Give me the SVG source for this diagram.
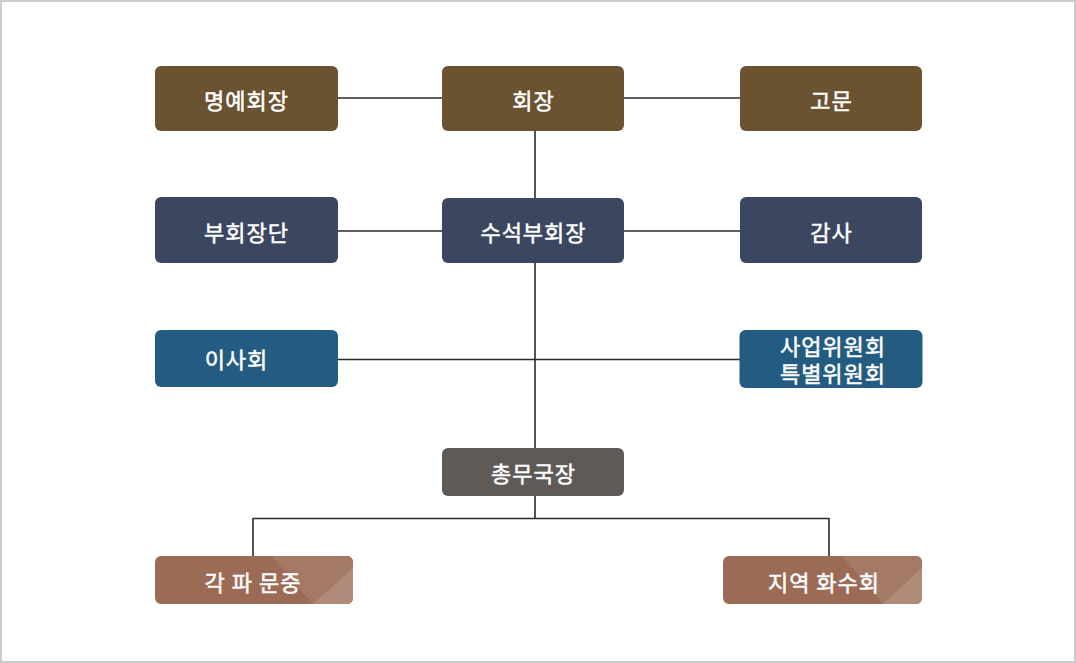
<svg xmlns="http://www.w3.org/2000/svg" width="1076" height="663" viewBox="0 0 1076 663">
<style>
.t{font-family:"Noto Sans CJK KR","Noto Sans",sans-serif;font-size:22px;font-weight:400;letter-spacing:1px;fill:#ffffff;stroke:#ffffff;stroke-width:0.5px;text-anchor:middle;dominant-baseline:central}
.c{stroke:#2a2a2a;stroke-width:1.6;fill:none}
.b1{fill:#6b5332}
.b2{fill:#3b4660}
.b3{fill:#245b80}
.b4{fill:#5f5a56}
.b5{fill:#9b6b56}
</style>
<defs>
<clipPath id="cp1"><rect x="155" y="556" width="198" height="48" rx="6"/></clipPath>
<clipPath id="cp2"><rect x="723" y="556" width="199" height="48" rx="6"/></clipPath>
</defs>
<rect x="1" y="1" width="1074" height="661" fill="#ffffff" stroke="#cccccc" stroke-width="2"/>
<g id="connectors">
<line class="c" x1="338" y1="98" x2="442" y2="98"/>
<line class="c" x1="624" y1="98" x2="740" y2="98"/>
<line class="c" x1="535" y1="131" x2="535" y2="198"/>
<line class="c" x1="338" y1="231" x2="442" y2="231"/>
<line class="c" x1="624" y1="231" x2="740" y2="231"/>
<line class="c" x1="535" y1="263" x2="535" y2="448"/>
<line class="c" x1="338" y1="359.5" x2="740" y2="359.5"/>
<line class="c" x1="535" y1="496" x2="535" y2="518.5"/>
<line class="c" x1="253" y1="518.5" x2="829" y2="518.5"/>
<line class="c" x1="253" y1="518" x2="253" y2="556"/>
<line class="c" x1="829" y1="518" x2="829" y2="556"/>
</g>
<g id="n1"><rect class="b1" x="155" y="66" width="183" height="65" rx="6"/><text class="t" x="246.5" y="99">명예회장</text></g>
<g id="n2"><rect class="b1" x="442" y="66" width="182" height="65" rx="6"/><text class="t" x="533.5" y="99">회장</text></g>
<g id="n3"><rect class="b1" x="740" y="66" width="182" height="65" rx="6"/><text class="t" x="831.5" y="99">고문</text></g>
<g id="n4"><rect class="b2" x="155" y="197" width="183" height="66" rx="6"/><text class="t" x="246.5" y="230.5">부회장단</text></g>
<g id="n5"><rect class="b2" x="442" y="198" width="182" height="65" rx="6"/><text class="t" x="533.5" y="230.5">수석부회장</text></g>
<g id="n6"><rect class="b2" x="740" y="197" width="182" height="66" rx="6"/><text class="t" x="831.5" y="230.5">감사</text></g>
<g id="n7"><rect class="b3" x="155" y="330" width="183" height="57" rx="6"/><text class="t" x="236.5" y="358">이사회</text></g>
<g id="n8"><rect class="b3" x="739.5" y="330" width="183" height="58" rx="6"/><text class="t" x="833" y="345">사업위원회</text><text class="t" x="833" y="372">특별위원회</text></g>
<g id="n9"><rect class="b4" x="442" y="448" width="182" height="48" rx="6"/><text class="t" x="533.5" y="471.5">총무국장</text></g>
<g id="n10"><rect class="b5" x="155" y="556" width="198" height="48" rx="6"/>
<g clip-path="url(#cp1)"><polygon points="272,556 353,556 353,604 313,604" fill="#a47966"/><polygon points="313,604 353,568 353,604" fill="#b08b7a"/></g>
<text class="t" x="253" y="580.5">각 파 문중</text></g>
<g id="n11"><rect class="b5" x="723" y="556" width="199" height="48" rx="6"/>
<g clip-path="url(#cp2)"><polygon points="842,556 922,556 922,604 883,604" fill="#a47966"/><polygon points="883,604 922,568 922,604" fill="#b08b7a"/></g>
<text class="t" x="824" y="580.5">지역 화수회</text></g>
</svg>
